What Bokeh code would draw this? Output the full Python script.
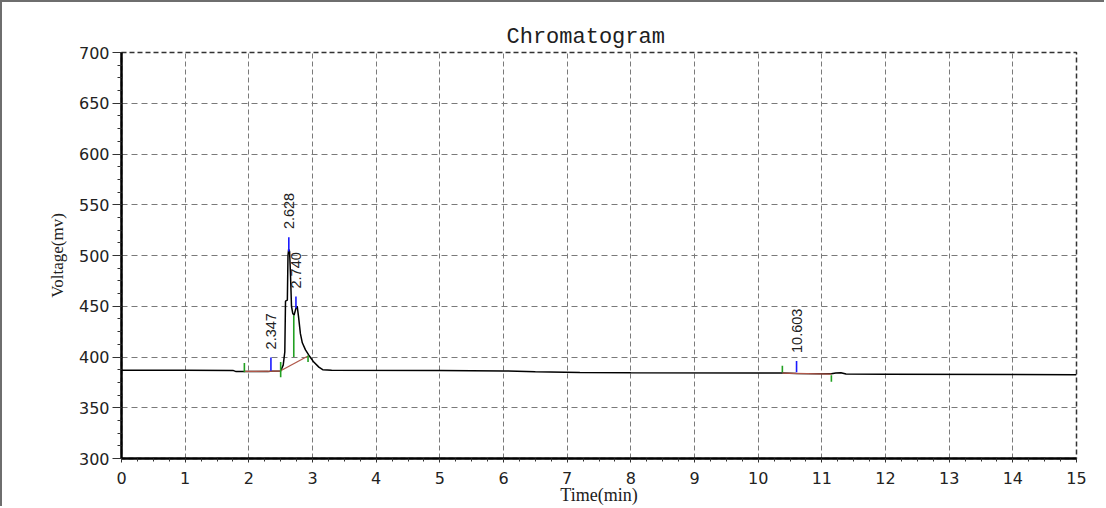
import math
from bokeh.plotting import figure
from bokeh.models import Range1d, SingleIntervalTicker
from bokeh.embed import file_html
from bokeh.resources import INLINE

# ---- data ----
time_min = [0.0, 1.0, 1.75, 1.80, 2.30, 2.34, 2.50, 2.54, 2.565, 2.576, 2.605,
            2.615, 2.625, 2.640, 2.655, 2.67, 2.69, 2.71, 2.74, 2.76, 2.78,
            2.81, 2.84, 2.89, 2.94, 3.02, 3.10, 3.16, 3.3, 5.0, 6.0, 6.5, 7.2,
            8.0, 10.0, 10.38, 10.6, 11.0, 11.15, 11.22, 11.3, 11.38, 12.0, 15.0]
voltage_mv = [387.0, 387.0, 386.8, 385.6, 385.6, 386.0, 386.3, 392.0, 405.0,
              455.0, 456.0, 500.0, 506.0, 504.0, 480.0, 450.0, 443.0, 441.0,
              448.0, 450.0, 440.0, 423.0, 414.0, 407.0, 402.0, 395.0, 390.0,
              387.5, 387.0, 386.6, 386.3, 385.5, 384.8, 384.5, 384.2, 384.2,
              383.8, 383.6, 383.4, 384.3, 384.5, 383.2, 383.0, 382.6]

peak_times = [2.347, 2.628, 2.740, 10.603]
peak_labels = ["2.347", "2.628", "2.740", "10.603"]
peak_mark_low = [386.5, 504.0, 448.0, 385.0]
peak_mark_high = [399.5, 518.0, 459.5, 396.0]

bound_times = [1.93, 2.50, 2.706, 2.93, 10.38, 11.15]
bound_low = [385.0, 380.0, 400.0, 395.0, 385.0, 375.5]
bound_high = [394.0, 395.0, 441.0, 401.5, 391.5, 382.0]

base_t0 = [1.93, 2.50, 10.38]
base_v0 = [385.8, 386.5, 384.2]
base_t1 = [2.50, 2.93, 11.15]
base_v1 = [386.0, 401.0, 383.2]

x_min, x_max = 0, 15
y_min, y_max = 300, 700

p = figure(width=1104, height=506, output_backend="svg", toolbar_location=None,
           x_range=Range1d(x_min, x_max), y_range=Range1d(y_min, y_max),
           min_border_left=119, min_border_right=30, min_border_top=50,
           min_border_bottom=50)
p.styles = {"border-left": "2px solid #6e6e6e", "border-top": "2px solid #6e6e6e"}

p.title.text = "Chromatogram"
p.title.text_font = "Liberation Mono"
p.title.text_font_size = "22px"
p.title.text_font_style = "normal"
p.title.text_color = "#202020"
p.title.align = "left"
p.title.offset = 385
p.title.standoff = 6

p.xaxis.ticker = SingleIntervalTicker(interval=1, num_minor_ticks=4)
p.yaxis.ticker = SingleIntervalTicker(interval=50, num_minor_ticks=4)

for ax in (p.xaxis[0], p.yaxis[0]):
    ax.axis_line_color = "black"
    ax.axis_line_width = 2.5
    ax.major_tick_line_color = "#333333"
    ax.minor_tick_line_color = "#333333"
    ax.major_tick_in = 0
    ax.minor_tick_in = 0
    ax.major_label_text_font = "DejaVu Sans"
    ax.major_label_text_font_size = "16px"
    ax.major_label_text_color = "#222222"
    ax.axis_label_text_font = "Liberation Serif"
    ax.axis_label_text_font_style = "normal"
    ax.axis_label_text_color = "#202020"

p.xaxis.major_tick_out = 4
p.xaxis.minor_tick_out = 3
p.xaxis.major_label_standoff = 9
p.xaxis.axis_label = "Time(min)"
p.xaxis.axis_label_text_font_size = "18px"
p.xaxis.axis_label_standoff = -2

p.yaxis.major_tick_out = 9
p.yaxis.minor_tick_out = 4
p.yaxis.major_label_standoff = 3
p.yaxis.axis_label = "Voltage(mv)"
p.yaxis.axis_label_text_font_size = "17px"
p.yaxis.axis_label_standoff = 9

p.xgrid.grid_line_color = "#7a7a7a"
p.xgrid.grid_line_dash = "5 3"
p.ygrid.grid_line_color = "#7a7a7a"
p.ygrid.grid_line_dash = "6 4"

p.outline_line_color = "#333333"
p.outline_line_dash = "5 3"
p.outline_line_width = 1.5

p.line(time_min, voltage_mv, line_color="black", line_width=1.5)
p.segment(x0=base_t0, y0=base_v0, x1=base_t1, y1=base_v1,
          line_color="#b0584a", line_width=1.3)
p.segment(x0=bound_times, y0=bound_low, x1=bound_times, y1=bound_high,
          line_color="#22a022", line_width=1.6)
p.segment(x0=peak_times, y0=peak_mark_low, x1=peak_times, y1=peak_mark_high,
          line_color="#1a1aff", line_width=1.6)

label_y = [h + 8 for h in peak_mark_high]
p.text(x=peak_times, y=label_y, text=peak_labels, angle=math.pi / 2,
       text_align="left", text_baseline="middle", text_font_size="14.5px",
       text_color="#222222")

open("out.html", "w").write(file_html(p, INLINE))
